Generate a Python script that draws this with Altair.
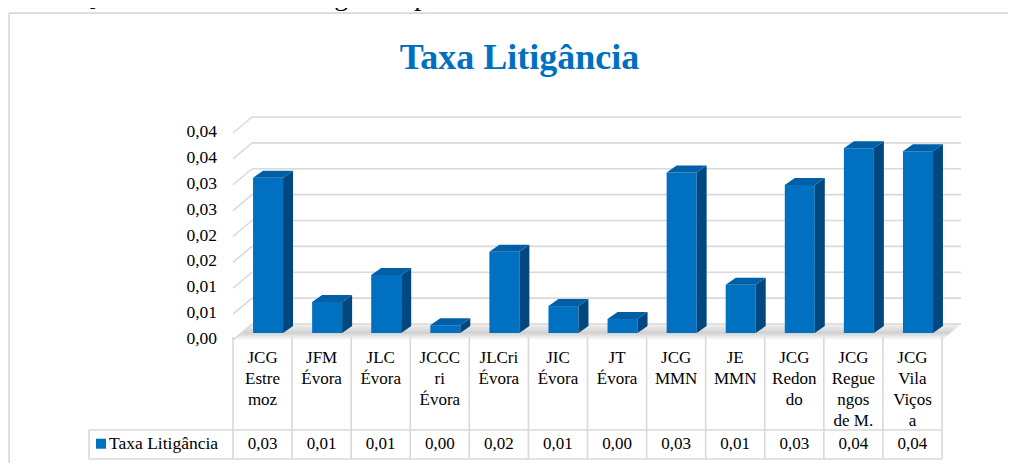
import altair as alt
import pandas as pd

# ---------------- data ----------------
categories = ["JCG Estremoz", "JFM Évora", "JLC Évora", "JCCCri Évora", "JLCri Évora",
              "JIC Évora", "JT Évora", "JCG MMN", "JE MMN", "JCG Redondo",
              "JCG Reguengos de M.", "JCG Vila Viçosa"]
category_table_labels = ["JCG\nEstre\nmoz", "JFM\nÉvora", "JLC\nÉvora", "JCCC\nri\nÉvora",
                         "JLCri\nÉvora", "JIC\nÉvora", "JT\nÉvora", "JCG\nMMN", "JE\nMMN",
                         "JCG\nRedon\ndo", "JCG\nRegue\nngos\nde M.", "JCG\nVila\nViços\na"]
values = [0.0300, 0.0060, 0.0112, 0.0015, 0.0157, 0.0052, 0.0027, 0.0310, 0.0093,
          0.0286, 0.0357, 0.0351]
ytick_values = [0.0, 0.005, 0.010, 0.015, 0.020, 0.025, 0.030, 0.035, 0.040]
ytick_labels = ["0,00", "0,01", "0,01", "0,02", "0,02", "0,03", "0,03", "0,04", "0,04"]
series_name = "Taxa Litigância"
title_text = "Taxa Litigância"
caption_text = "a 21 – Quadro da Taxa de Litigância por Juízo de PCE"

# ---------------- layout / style ----------------
FONT = "Liberation Serif"
BLUE = "#0070C0"
TOP_BLUE = "#005FA6"
SIDE_BLUE = "#00487F"
GRID = "#d9d9d9"
OX, OY = 9, 13            # page position of the view origin
W, H = 999, 450           # keeps the whole page inside the 1016x471 window
N = len(categories)
X_RANGE = [233 - OX, 942 - OX]
Y_RANGE = [340 - OY, 133 - OY]
YMAX = ytick_values[-1]
XU = (X_RANGE[1] - X_RANGE[0]) / N        # px per category unit
YU = (Y_RANGE[0] - Y_RANGE[1]) / YMAX     # px per value unit

WALL_DX, WALL_DY = 19 / XU, 16 / YU       # oblique depth of the back wall
BAR_SHIFT, BAR_LIFT = 5.5 / XU, 7 / YU    # bars sit mid-depth
BAR_HALF = 15 / XU
DEPTH_DX, DEPTH_DY = 10 / XU, 7 / YU      # bar depth

xs = alt.Scale(domain=[0, N], range=X_RANGE, nice=False, zero=False)
ys = alt.Scale(domain=[0, YMAX], range=Y_RANGE, nice=False, zero=False)

# ---------------- derived tables ----------------
ticks = pd.DataFrame({"v": ytick_values, "lab": ytick_labels})
ticks["vb"] = ticks["v"] + WALL_DY
ticks["x0"] = 0.0
ticks["xw0"] = WALL_DX
ticks["xw1"] = N + WALL_DX

bars = pd.DataFrame({"name": categories, "v": values, "i": range(N)})
bars["xl"] = bars["i"] + 0.5 + BAR_SHIFT - BAR_HALF
bars["xr"] = bars["i"] + 0.5 + BAR_SHIFT + BAR_HALF
bars["base"] = BAR_LIFT
bars["top"] = bars["v"] + BAR_LIFT

side_rows, top_rows = [], []
for _, r in bars.iterrows():
    side_rows.append({"name": r["name"], "x": r["xr"], "y": r["base"], "y2": r["top"]})
    side_rows.append({"name": r["name"], "x": r["xr"] + DEPTH_DX, "y": r["base"] + DEPTH_DY,
                      "y2": r["top"] + DEPTH_DY})
    top_rows.append({"name": r["name"], "y": r["top"], "x": r["xl"], "x2": r["xr"]})
    top_rows.append({"name": r["name"], "y": r["top"] + DEPTH_DY, "x": r["xl"] + DEPTH_DX,
                     "x2": r["xr"] + DEPTH_DX})
side = pd.DataFrame(side_rows)
topf = pd.DataFrame(top_rows)

floor = pd.DataFrame({"y": [0.0, WALL_DY], "x": [0.0, WALL_DX], "x2": [float(N), N + WALL_DX]})

table = pd.DataFrame({"name": categories, "lab": category_table_labels, "v": values,
                      "xc": [i + 0.5 for i in range(N)]})
bounds = pd.DataFrame({"x": [float(i) for i in range(N + 1)]})
LEG_LEFT = (89 - 233) / XU
hlines = pd.DataFrame({"x": [LEG_LEFT], "x2": [float(N)]})


def X(f, **kw):
    return alt.X(f, scale=xs, axis=None, **kw)


def Y(f, **kw):
    return alt.Y(f, scale=ys, axis=None, **kw)


one = pd.DataFrame({"k": [0]})

frame_top = alt.Chart(one).mark_rule(color=GRID, strokeWidth=1.5).encode(
    x=alt.value(0), x2=alt.value(W + 20), y=alt.value(0))
frame_left = alt.Chart(one).mark_rule(color=GRID, strokeWidth=1.5).encode(
    x=alt.value(0), y=alt.value(0), y2=alt.value(H + 20))

floor_layer = alt.Chart(floor).mark_area(
    orient="horizontal",
    color=alt.Gradient(gradient="linear", x1=0, y1=0, x2=0, y2=1,
                       stops=[alt.GradientStop(offset=0, color="#f4f4f4"),
                              alt.GradientStop(offset=0.55, color="#d0d0d0"),
                              alt.GradientStop(offset=1, color="#ffffff")])
).encode(y=Y("y:Q", stack=None), x=X("x:Q", stack=None), x2="x2:Q")

wall = alt.Chart(ticks).mark_rule(color=GRID, strokeWidth=1.6).encode(
    x=X("xw0:Q"), x2="xw1:Q", y=Y("vb:Q"))

slants = alt.Chart(ticks).mark_rule(color=GRID, strokeWidth=1.6).encode(
    x=X("x0:Q"), x2="xw0:Q", y=Y("v:Q"), y2="vb:Q")

ylabels = alt.Chart(ticks).mark_text(font=FONT, fontSize=17.5, align="right",
                                     baseline="middle", color="black", dy=-1).encode(
    x=alt.value(217 - OX), y=Y("v:Q"), text="lab:N")

front = alt.Chart(bars).mark_rect(color=BLUE).encode(
    x=X("xl:Q"), x2="xr:Q", y=Y("base:Q"), y2="top:Q")

side_layer = alt.Chart(side).mark_area(orient="vertical", color=SIDE_BLUE).encode(
    x=X("x:Q"), y=Y("y:Q", stack=None), y2="y2:Q", detail="name:N")

top_layer = alt.Chart(topf).mark_area(orient="horizontal", color=TOP_BLUE).encode(
    y=Y("y:Q"), x=X("x:Q", stack=None), x2="x2:Q", detail="name:N")

vlines = alt.Chart(bounds).mark_rule(color=GRID, strokeWidth=1.6).encode(
    x=X("x:Q"), y=alt.value(337 - OY), y2=alt.value(459 - OY))

hline1 = alt.Chart(hlines).mark_rule(color=GRID, strokeWidth=1.6).encode(
    x=X("x:Q"), x2="x2:Q", y=alt.value(430 - OY))
hline2 = alt.Chart(hlines).mark_rule(color=GRID, strokeWidth=1.6).encode(
    x=X("x:Q"), x2="x2:Q", y=alt.value(459 - OY))
legcell = alt.Chart(hlines).mark_rule(color=GRID, strokeWidth=1.6).encode(
    x=X("x:Q"), y=alt.value(430 - OY), y2=alt.value(459 - OY))

cat_text = alt.Chart(table).mark_text(
    font=FONT, fontSize=17, lineBreak="\n", lineHeight=21, baseline="alphabetic",
    align="center", color="black"
).encode(x=X("xc:Q"), y=alt.value(363 - OY), text="lab:N")

val_text = alt.Chart(table).transform_calculate(
    lbl="replace(format(datum.v + 1e-9, '.2f'), '.', ',')"
).mark_text(font=FONT, fontSize=17, baseline="alphabetic", align="center", color="black"
).encode(x=X("xc:Q"), y=alt.value(449 - OY), text="lbl:N")

legend_df = pd.DataFrame({"name": [series_name]})
leg_sq = alt.Chart(legend_df).mark_square(size=100, color=BLUE, opacity=1).encode(
    x=alt.value(101 - OX), y=alt.value(443.7 - OY))
leg_txt = alt.Chart(legend_df).mark_text(font=FONT, fontSize=17.5, align="left",
                                         baseline="alphabetic", color="black").encode(
    x=alt.value(109 - OX), y=alt.value(449 - OY), text="name:N")

title_df = pd.DataFrame({"t": [title_text]})
title = alt.Chart(title_df).mark_text(font=FONT, fontSize=36, fontWeight="bold", color=BLUE,
                                      align="center", baseline="alphabetic").encode(
    x=alt.value(519.5 - OX), y=alt.value(69 - OY), text="t:N")

caption_df = pd.DataFrame({"t": [caption_text]})
caption = alt.Chart(caption_df).mark_text(font=FONT, fontSize=28, align="left",
                                          baseline="alphabetic", color="black").encode(
    x=alt.value(0 - OX), y=alt.value(5 - OY), text="t:N")

chart = alt.layer(
    frame_top, frame_left, floor_layer, wall, slants, ylabels, front, side_layer, top_layer,
    vlines, hline1, hline2, legcell, cat_text, val_text, leg_sq, leg_txt, title, caption
).properties(
    width=W, height=H,
    autosize=alt.AutoSizeParams(type="none"),
    padding={"left": OX - 8, "top": OY - 8, "right": 0, "bottom": 0},
).configure_view(stroke="transparent").configure(background="white")

chart.save("out.html", embed_options={"renderer": "svg", "actions": False})
